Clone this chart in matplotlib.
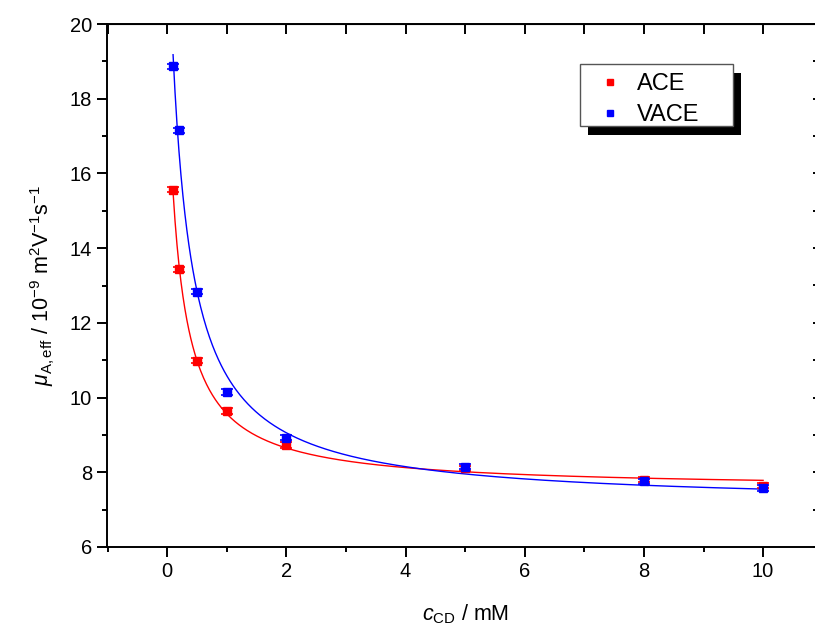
import numpy as np
import matplotlib
matplotlib.use("Agg")
import matplotlib.pyplot as plt
from matplotlib.patches import Rectangle
from matplotlib.ticker import MultipleLocator
from matplotlib.lines import Line2D

plt.rcParams['font.family'] = ['Liberation Sans', 'DejaVu Sans']
plt.rcParams['mathtext.fontset'] = 'custom'
plt.rcParams['mathtext.rm'] = 'Liberation Sans'
plt.rcParams['mathtext.it'] = 'Liberation Sans:italic'
plt.rcParams['mathtext.bf'] = 'Liberation Sans:bold'

# ---- data ----
c_ace = [0.1, 0.2, 0.5, 1.0, 2.0, 5.0, 8.0, 10.0]
mu_ace = [15.56, 13.43, 10.99, 9.64, 8.73, 8.11, 7.80, 7.64]
c_vace = [0.1, 0.2, 0.5, 1.0, 2.0, 5.0, 8.0, 10.0]
mu_vace = [18.87, 17.15, 12.83, 10.15, 8.93, 8.15, 7.76, 7.58]
err_ace = [0.07] * len(c_ace)
err_vace = [0.07] * len(c_vace)
series_labels = ['ACE', 'VACE']


def fit_isotherm(c, mu):
    """Least-squares fit of mu = (a + b*K*c)/(1+K*c); grid over K."""
    c = np.asarray(c, float)
    mu = np.asarray(mu, float)
    best = None
    for K in np.logspace(-1, 2, 3000):
        A = np.column_stack([1 / (1 + K * c), K * c / (1 + K * c)])
        coef, *_ = np.linalg.lstsq(A, mu, rcond=None)
        r = np.sum((A @ coef - mu) ** 2)
        if best is None or r < best[0]:
            best = (r, K, coef)
    _, K, (a, b) = best
    return lambda x: (a + b * K * x) / (1 + K * x)


f_ace = fit_isotherm(c_ace, mu_ace)
f_vace = fit_isotherm(c_vace, mu_vace)
xs = np.linspace(0.1, 10, 600)

W, H = 815, 628
fig = plt.figure(figsize=(W / 100, H / 100), dpi=100)
left, right, top, bottom = 107.5, 822.7, 24, 547
ax = fig.add_axes([left / W, 1 - bottom / H, (right - left) / W, (bottom - top) / H])

ax.plot(xs, f_ace(xs), color='#ff0000', lw=1.0, zorder=2)
ax.plot(xs, f_vace(xs), color='#0000ff', lw=1.0, zorder=2)
ax.errorbar(c_ace, mu_ace, yerr=err_ace, fmt='s', color='#ff0000', ms=5.5,
            capsize=4, elinewidth=1, capthick=1.2, zorder=3)
ax.errorbar(c_vace, mu_vace, yerr=err_vace, fmt='s', color='#0000ff', ms=5.5,
            capsize=4, elinewidth=1, capthick=1.2, zorder=4)

ax.set_xlim(-1, 11)
ax.set_ylim(6, 20)
ax.xaxis.set_minor_locator(MultipleLocator(1))
ax.yaxis.set_major_locator(MultipleLocator(2))
ax.yaxis.set_minor_locator(MultipleLocator(1))
ax.set_xticks([0, 2, 4, 6, 8, 10])
for s in ax.spines.values():
    s.set_linewidth(1.4)
ax.tick_params(axis='both', which='major', direction='out', length=7, width=1.4,
               labelsize=14.5, pad=4, top=False, right=False)
ax.tick_params(axis='both', which='minor', direction='out', length=3.6, width=1.4,
               top=False, right=False)

# top and right ticks (inward)
axt = ax.secondary_xaxis('top')
axt.set_xticks(np.arange(-1, 12, 1))
axt.tick_params(direction='in', length=7, width=1.4, labeltop=False)
axt.set_xticklabels([])
axr = ax.secondary_yaxis('right')
axr.set_yticks(np.arange(6, 21, 1))
axr.tick_params(direction='in', length=7, width=1.4)
axr.set_yticklabels([])

ax.set_xlabel(r'$c_{\mathrm{CD}}$ / mM', fontsize=15.5, labelpad=15)
ax.set_ylabel(r'$\mu_{\mathrm{A,eff}}$ / 10$^{-9}$ m$^{2}$V$^{-1}$s$^{-1}$',
              fontsize=15.5, labelpad=9)

# legend box with solid drop shadow (figure pixel coords, top-down)
bx0, by0, bx1, by1 = 580, 64, 733, 126
fig.patches.append(Rectangle((((bx0 + 8) / W), 1 - (by1 + 9) / H),
                             (bx1 - bx0) / W, (by1 - by0) / H,
                             transform=fig.transFigure, facecolor='black',
                             edgecolor='none', zorder=5))
fig.patches.append(Rectangle((bx0 / W, 1 - by1 / H), (bx1 - bx0) / W, (by1 - by0) / H,
                             transform=fig.transFigure, facecolor='white',
                             edgecolor='#555555', lw=1.0, zorder=6))
ax.set_zorder(1)
ax.patch.set_visible(False)

handles = [Line2D([], [], ls='none', marker='s', color='#ff0000', ms=5),
           Line2D([], [], ls='none', marker='s', color='#0000ff', ms=5)]
leg = fig.legend(handles, series_labels, loc='upper left',
                 bbox_to_anchor=(bx0 / W, 1 - by0 / H), bbox_transform=fig.transFigure,
                 fontsize=17, frameon=False,
                 handlelength=1.75, handletextpad=0.3, borderpad=0.38,
                 borderaxespad=0, labelspacing=0.4)
leg.set_zorder(7)

fig.savefig('out.png', dpi=100)
